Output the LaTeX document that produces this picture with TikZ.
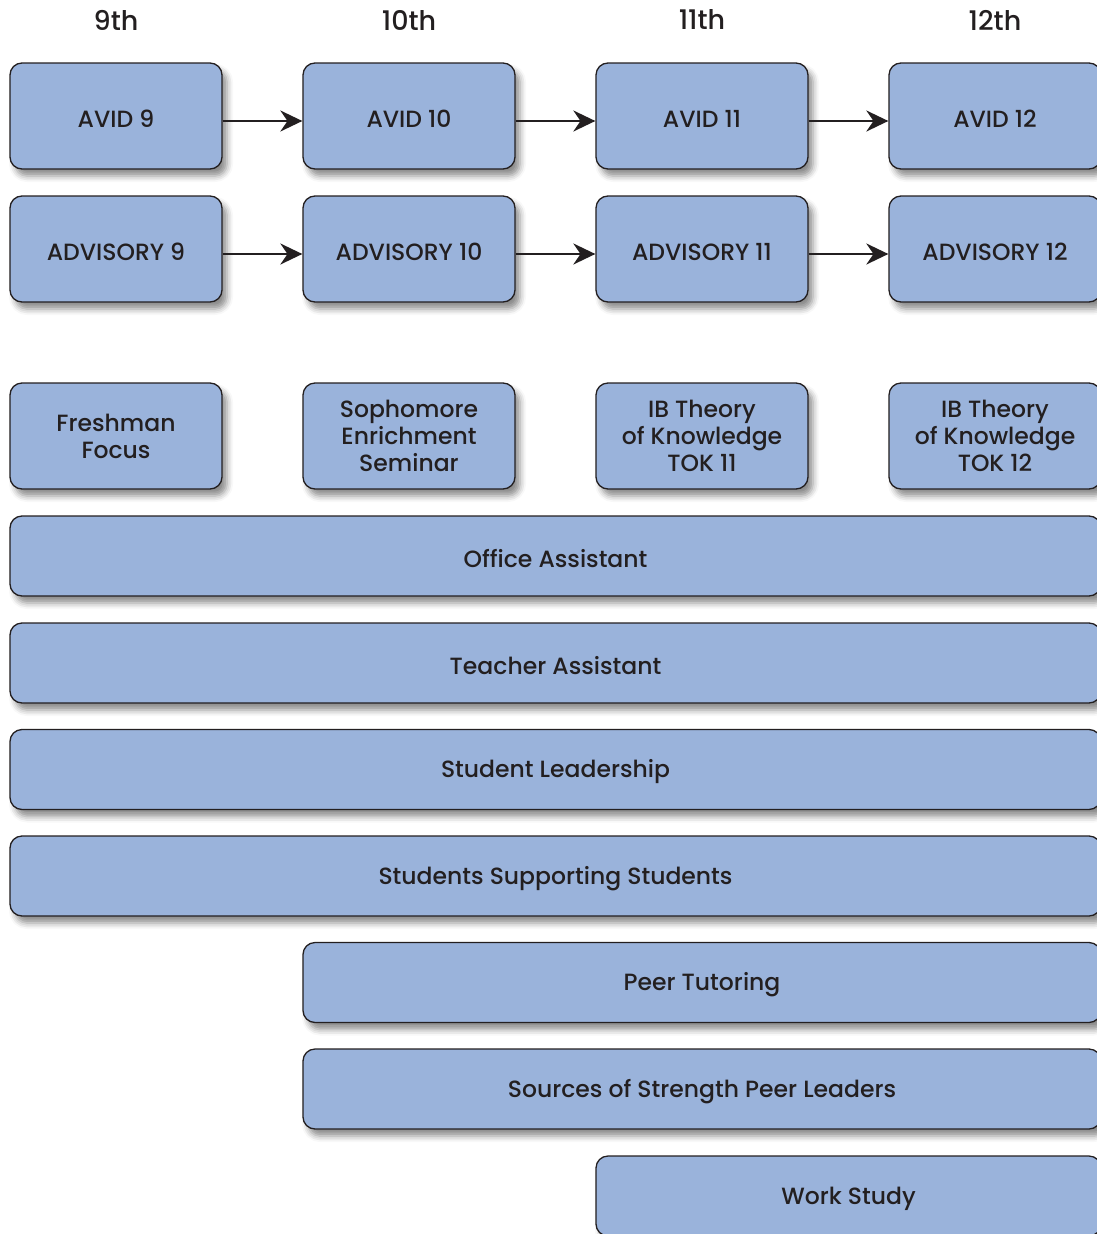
\documentclass[tikz,border=0pt]{standalone}
\usepackage{fontspec}
\setmainfont{Poppins Medium}
\usetikzlibrary{arrows.meta,shadows.blur}
\definecolor{boxblue}{HTML}{9AB3DB}
\definecolor{inkdark}{HTML}{231F20}
\begin{document}
\begin{tikzpicture}[x=1pt, y=-1pt, >={Stealth[length=22pt,width=21pt]},
  box/.style={draw=inkdark, line width=1.3pt, fill=boxblue, rounded corners=12pt,
    text=inkdark, align=center, font=\fontsize{23.5}{27}\selectfont,
    execute at begin node={\rule{0pt}{22.5pt}},
    blur shadow={shadow xshift=5pt, shadow yshift=-7pt, shadow blur radius=6pt, shadow opacity=45}},
  cell/.style={box, minimum width=212pt, minimum height=106pt},
  bar/.style={box, minimum height=80pt},
  grade/.style={text=inkdark, font=\fontsize{27}{30}\selectfont},
  link/.style={->, line width=2.4pt, draw=inkdark}]
  \useasboundingbox (0,0) rectangle (1097,1234);
  % grade headings
  \node[grade] (g9)  at (116,20) {9th};
  \node[grade] (g10) at (409,20) {10th};
  \node[grade] (g11) at (702,20) {11th};
  \node[grade] (g12) at (995,20) {12th};
  % AVID
  \node[cell] (avid9)  at (116,116) {AVID 9};
  \node[cell] (avid10) at (409,116) {AVID 10};
  \node[cell] (avid11) at (702,116) {AVID 11};
  \node[cell] (avid12) at (995,116) {AVID 12};
  % advisory
  \node[cell] (adv9)  at (116,249) {ADVISORY 9};
  \node[cell] (adv10) at (409,249) {ADVISORY 10};
  \node[cell] (adv11) at (702,249) {ADVISORY 11};
  \node[cell] (adv12) at (995,249) {ADVISORY 12};
  % seminars
  \node[cell] (focus) at (116,436) {Freshman\\Focus};
  \node[cell] (soph)  at (409,436) {Sophomore\\Enrichment\\Seminar};
  \node[cell] (tok11) at (702,436) {IB Theory\\of Knowledge\\TOK 11};
  \node[cell] (tok12) at (995,436) {IB Theory\\of Knowledge\\TOK 12};
  % whole-span programmes
  \node[bar, minimum width=1091pt] (office)  at (555.5,556)  {Office Assistant};
  \node[bar, minimum width=1091pt] (teacher) at (555.5,663)  {Teacher Assistant};
  \node[bar, minimum width=1091pt] (lead)    at (555.5,769.5){Student Leadership};
  \node[bar, minimum width=1091pt] (sss)     at (555.5,876)  {Students Supporting Students};
  \node[bar, minimum width=798pt]  (peer)    at (702,982.5)  {Peer Tutoring};
  \node[bar, minimum width=798pt]  (sos)     at (702,1089)   {Sources of Strength Peer Leaders};
  \node[bar, minimum width=505pt]  (work)    at (848.5,1196) {Work Study};
  % progressions
  \draw[link] ([yshift=-5pt]avid9.east)  -- ([yshift=-5pt]avid10.west);
  \draw[link] ([yshift=-5pt]avid10.east) -- ([yshift=-5pt]avid11.west);
  \draw[link] ([yshift=-5pt]avid11.east) -- ([yshift=-5pt]avid12.west);
  \draw[link] ([yshift=-5pt]adv9.east)  -- ([yshift=-5pt]adv10.west);
  \draw[link] ([yshift=-5pt]adv10.east) -- ([yshift=-5pt]adv11.west);
  \draw[link] ([yshift=-5pt]adv11.east) -- ([yshift=-5pt]adv12.west);
\end{tikzpicture}
\end{document}
